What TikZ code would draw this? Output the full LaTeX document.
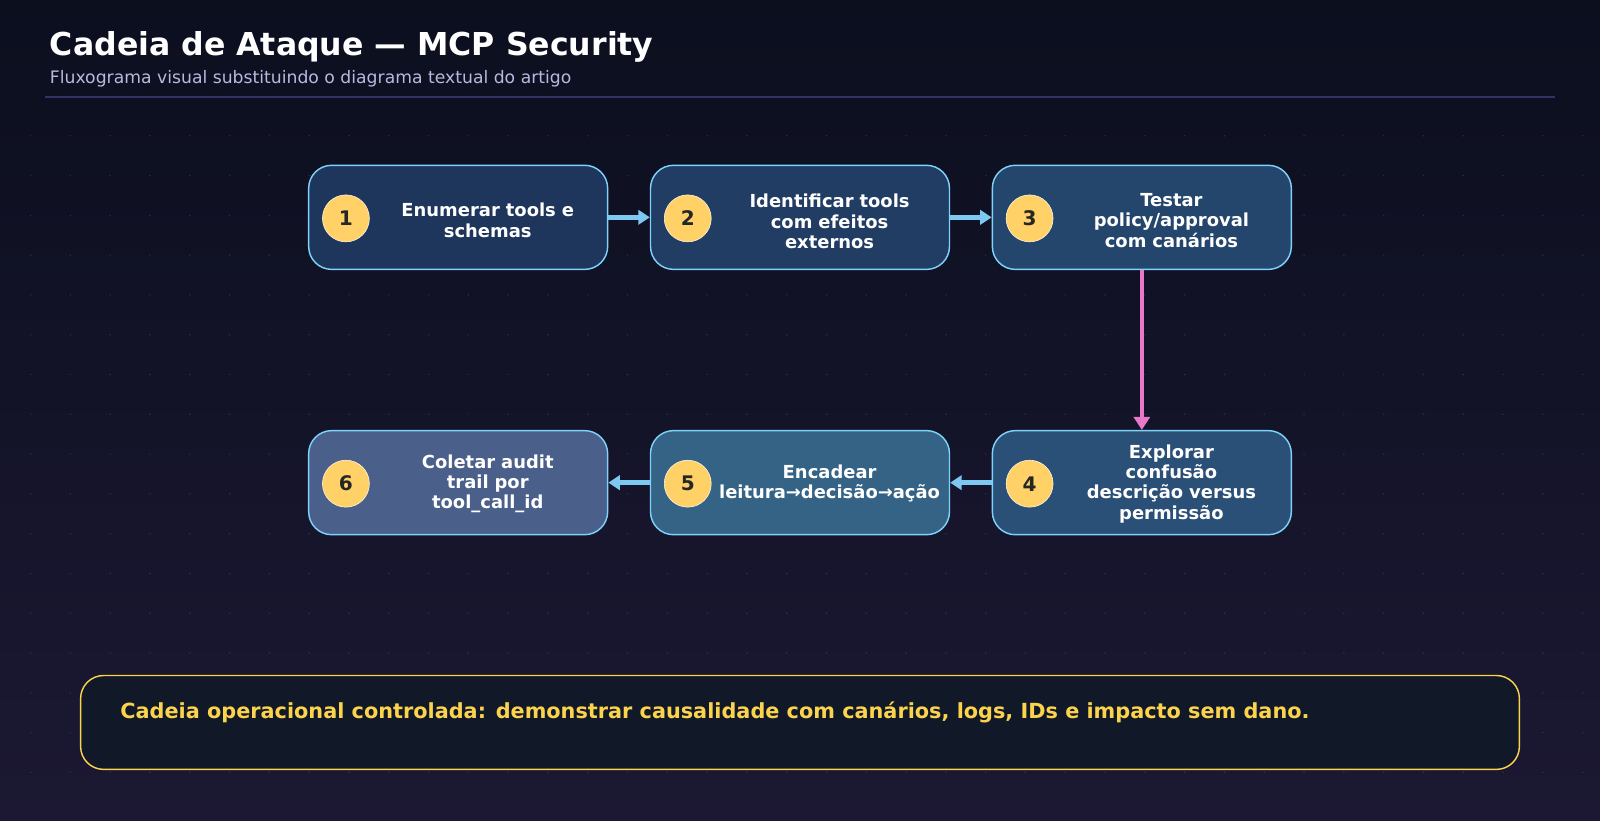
\documentclass[tikz,border=0pt]{standalone}
\usepackage{fontspec}
\setmainfont{DejaVu Sans}
\usetikzlibrary{positioning,arrows.meta}
\definecolor{bgtop}{HTML}{0B0F1E}
\definecolor{bgbot}{HTML}{1C1833}
\definecolor{edgec}{HTML}{7DD3FC}
\definecolor{arrc}{HTML}{7CC8F0}
\definecolor{pinkc}{HTML}{E879C9}
\definecolor{goldc}{HTML}{FCD34D}
\definecolor{numc}{HTML}{FFD166}
\tikzset{
  stage/.style={draw=edgec, line width=1pt, rounded corners=16, minimum width=293*0.025cm, minimum height=102*0.025cm},
  num/.style={circle, fill=numc, draw=white!80!numc, minimum size=46*0.025cm, inner sep=0pt, font=\bfseries\fontsize{14}{16}\selectfont, text=black!85},
  lbl/.style={text=white, align=center, text width=5.6cm, font=\bfseries\fontsize{12.5}{14.2}\selectfont},
  flow/.style={arrc, line width=3.5pt, -{Triangle[length=8pt,width=10pt]}},
}
\begin{document}
\begin{tikzpicture}[x=0.025cm, y=-0.025cm]
\useasboundingbox (0,0) rectangle (1568,804);
% background
\shade[top color=bgtop, bottom color=bgbot] (0,0) rectangle (1568,804);
\foreach \i in {0,...,39}
  \foreach \j in {0,...,16}
    \fill[white, opacity=0.12] (30+39*\i,133+39*\j) circle (0.8);

% title
\node[anchor=west, text=white, font=\bfseries\fontsize{22}{26}\selectfont] (title) at (44,46) {Cadeia de Ataque — MCP Security};
\node[anchor=west, text=gray!60!blue!40!white, font=\fontsize{12}{14}\selectfont] (sub) at (44,77) {Fluxograma visual substituindo o diagrama textual do artigo};
\draw[blue!35!gray!60!black, line width=1pt] (44,95) -- (1524,95);

% stages
\node[stage, fill={rgb,255:red,30;green,54;blue,92}] (s1) at (449,213) {};
\node[stage, fill={rgb,255:red,34;green,61;blue,100}] (s2) at (784,213) {};
\node[stage, fill={rgb,255:red,37;green,70;blue,108}] (s3) at (1119,213) {};
\node[stage, fill={rgb,255:red,43;green,80;blue,120}] (s4) at (1119,473) {};
\node[stage, fill={rgb,255:red,53;green,99;blue,133}] (s5) at (784,473) {};
\node[stage, fill={rgb,255:red,74;green,95;blue,138}] (s6) at (449,473) {};

\node[num] (n1) at (339,214) {1};
\node[num] (n2) at (674,214) {2};
\node[num] (n3) at (1009,214) {3};
\node[num] (n4) at (1009,474) {4};
\node[num] (n5) at (674,474) {5};
\node[num] (n6) at (339,474) {6};

\node[lbl] (t1) at (478,216) {Enumerar tools e\\schemas};
\node[lbl] (t2) at (813,217) {Identificar tools\\com efeitos\\externos};
\node[lbl] (t3) at (1148,216) {Testar\\policy/approval\\com canários};
\node[lbl] (t4) at (1148,474) {Explorar\\confusão\\descrição versus\\permissão};
\node[lbl] (t5) at (813,474) {Encadear\\leitura→decisão→ação};
\node[lbl] (t6) at (478,474) {Coletar audit\\trail por\\tool\_call\_id};

% connectors
\draw[flow] (s1.east) -- (s2.west);
\draw[flow] (s2.east) -- (s3.west);
\draw[pinkc, line width=3pt, -{Triangle[length=9pt,width=11pt]}] (s3.south) -- (s4.north);
\draw[flow] (s4.west) -- (s5.east);
\draw[flow] (s5.west) -- (s6.east);

% note
\node[draw=goldc, line width=1pt, fill={rgb,255:red,17;green,24;blue,39}, rounded corners=16, minimum width=1410*0.025cm, minimum height=92*0.025cm] (note) at (784,708) {};
\node[anchor=west, text=goldc, font=\bfseries\fontsize{14.5}{17}\selectfont] (notetxt) at (113,698) {Cadeia operacional controlada: demonstrar causalidade com canários, logs, IDs e impacto sem dano.};
\end{tikzpicture}
\end{document}
